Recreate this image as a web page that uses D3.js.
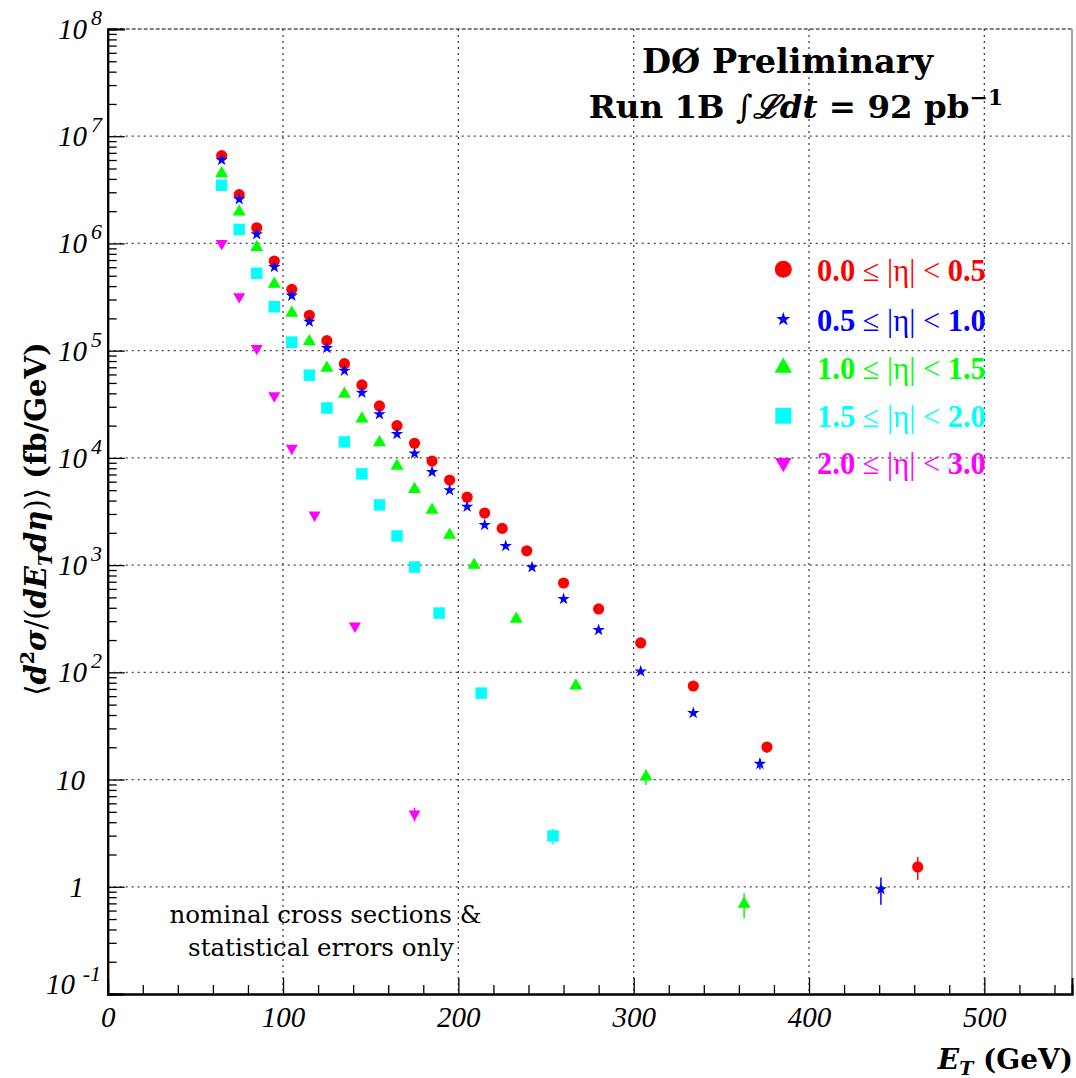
<!DOCTYPE html>
<html><head><meta charset="utf-8">
<script src="https://cdn.jsdelivr.net/npm/d3@7"></script>
<style>body{margin:0;background:#fff} svg{display:block}</style>
</head><body>
<svg id="c" width="1076" height="1078"></svg>
<script>
// ---------- data ----------
const etRed   = [65,75,85,95,105,115,125,135,145,155,165,175,185,195,205,215,225,239,260,280,304,334,376,462];
const valRed  = [6.59e6,2.85e6,1.40e6,6.86e5,3.73e5,2.14e5,1.24e5,7.56e4,4.79e4,3.05e4,2.0e4,1.37e4,9.35e3,6.2e3,4.3e3,3.06e3,2.2e3,1.36e3,681,390,188,74.6,20.1,1.53];
const errRed  = [0,0,0,0,0,0,0,0,0,0,0,0,0,0,0,0,0,0,0,0,0,0,2.2,0.37];

const etBlue  = [65,75,85,95,105,115,125,135,145,155,165,175,185,195,205,215,227,242,260,280,304,334,372,441];
const valBlue = [6.0e6,2.58e6,1.22e6,6.03e5,3.26e5,1.86e5,1.06e5,6.5e4,4.05e4,2.55e4,1.67e4,1.10e4,7.4e3,5.0e3,3.5e3,2.37e3,1.51e3,955,483,248,102,41.8,14.0,0.95];
const errBlue = [0,0,0,0,0,0,0,0,0,0,0,0,0,0,0,0,0,0,0,0,0,0,1.6,0.27];

const etGreen  = [65,75,85,95,105,115,125,135,145,155,165,175,185,195,209,233,267,307,363];
const valGreen = [4.5e6,1.98e6,9.2e5,4.19e5,2.24e5,1.22e5,6.9e4,3.94e4,2.32e4,1.39e4,8.4e3,5.1e3,3.27e3,1.91e3,1.0e3,314,75,10.6,0.69];
const errGreen = [0,0,0,0,0,0,0,0,0,0,0,0,0,0,0,0,0,1.7,0.18];

const etCyan  = [65,75,85,95,105,115,125,135,145,155,165,175,189,213,254];
const valCyan = [3.49e6,1.35e6,5.27e5,2.57e5,1.2e5,5.9e4,2.92e4,1.41e4,7.1e3,3.64e3,1.87e3,960,357,64,2.98];
const errCyan = [0,0,0,0,0,0,0,0,0,0,0,0,0,0,0.5];

const etMag  = [65,75,85,95,105,118,141,175];
const valMag = [1.0e6,3.19e5,1.05e5,3.8e4,1.23e4,2.93e3,270,4.77];
const errMag = [0,0,0,0,0,0,0,0.7];

const seriesNames  = ["0.0|0.5","0.5|1.0","1.0|1.5","1.5|2.0","2.0|3.0"];
const xTickLabels  = [0,100,200,300,400,500];
const yDecadeExps  = [-1,0,1,2,3,4,5,6,7,8];

// ---------- setup ----------
const W = 1076, H = 1078;
const L = 107.7, R = 1072, T = 29, B = 994;
const x = d3.scaleLinear().domain([0,550]).range([L,R]);
const y = d3.scaleLog().domain([0.1,1e8]).range([B,T]);
const svg = d3.select('#c');
svg.append('rect').attr('width',W).attr('height',H).attr('fill','#fff');

const serif = "'Liberation Serif','Times New Roman',serif";
const cm = "'DejaVu Serif',serif";

// grid
const g = svg.append('g');
xTickLabels.filter(v=>v>0).forEach(v=>{
  g.append('line').attr('x1',x(v)).attr('x2',x(v)).attr('y1',T).attr('y2',B)
   .attr('stroke','#444').attr('stroke-width',1.3).attr('stroke-dasharray','2,4');
});
yDecadeExps.filter(e=>e>-1 && e<8).forEach(e=>{
  const yy = y(Math.pow(10,e));
  g.append('line').attr('x1',L).attr('x2',R).attr('y1',yy).attr('y2',yy)
   .attr('stroke','#444').attr('stroke-width',1.3).attr('stroke-dasharray','2,4');
});
// frame top/right
svg.append('line').attr('x1',L).attr('x2',R).attr('y1',T).attr('y2',T)
  .attr('stroke','#555').attr('stroke-width',1.5).attr('stroke-dasharray','4,2');
svg.append('line').attr('x1',R).attr('x2',R).attr('y1',T).attr('y2',B)
  .attr('stroke','#888').attr('stroke-width',1.5);

// x axis
const xMinor = d3.range(0,551,20).filter(v=>v%100!==0);
const ax1 = svg.append('g').attr('transform',`translate(0,${B})`)
  .call(d3.axisBottom(x).tickValues(xMinor).tickSize(-9).tickFormat(''));
const ax2 = svg.append('g').attr('transform',`translate(0,${B})`)
  .call(d3.axisBottom(x).tickValues(xTickLabels).tickSize(-16).tickPadding(12).tickFormat(d3.format('d')));
[ax1,ax2].forEach(a=>{
  a.select('.domain').attr('stroke','#000').attr('stroke-width',2);
  a.selectAll('.tick line').attr('stroke','#000').attr('stroke-width',1.3);
});
ax2.selectAll('text').attr('font-family',serif).attr('font-style','italic')
  .attr('font-size',29).attr('fill','#000');

// y axis
const yMinor = [];
yDecadeExps.slice(0,-1).forEach(e=>{ for(let k=2;k<=9;k++) yMinor.push(k*Math.pow(10,e)); });
const ay1 = svg.append('g').attr('transform',`translate(${L},0)`)
  .call(d3.axisLeft(y).tickValues(yMinor).tickSize(-9).tickFormat(''));
const ay2 = svg.append('g').attr('transform',`translate(${L},0)`)
  .call(d3.axisLeft(y).tickValues(yDecadeExps.map(e=>Math.pow(10,e))).tickSize(-17).tickFormat(''));
[ay1,ay2].forEach(a=>{
  a.select('.domain').attr('stroke','#000').attr('stroke-width',2);
  a.selectAll('.tick line').attr('stroke','#000').attr('stroke-width',1.3);
});
// y labels
yDecadeExps.forEach(e=>{
  const yy = y(Math.pow(10,e));
  const t = (s,xx,yb,fs)=>svg.append('text').attr('x',xx).attr('y',yb).attr('text-anchor','end')
     .attr('font-family',serif).attr('font-style','italic').attr('font-size',fs).attr('fill','#000').text(s);
  if (e===0) t('1',84,yy+10,29);
  else if (e===1) t('10',85,yy+10,29);
  else if (e<0) { t('10',75,yy,29); t(String(e),101,yy-13,22); }
  else { t('10',87,yy+10,29); t(String(e),102,yy-4,22); }
});

// ---------- markers ----------
const colors = ['#ff0000','#0000ff','#00ff00','#00ffff','#ff00ff'];
const triArea = w => Math.sqrt(3)/4*w*w;
const shapes = [
  {type:d3.symbolCircle, size:Math.PI*5.6*5.6, lsize:Math.PI*8.5*8.5, rot:0},
  {type:d3.symbolStar, size:48, lsize:62, rot:0},
  {type:d3.symbolTriangle, size:triArea(13), lsize:triArea(17.5), rot:0},
  {type:d3.symbolSquare, size:11.5*11.5, lsize:16*16, rot:0},
  {type:d3.symbolTriangle, size:triArea(12), lsize:triArea(16.5), rot:180}
];
const allSeries = [
  [etRed,valRed,errRed],[etBlue,valBlue,errBlue],[etGreen,valGreen,errGreen],
  [etCyan,valCyan,errCyan],[etMag,valMag,errMag]
];
const mk = svg.append('g');
allSeries.forEach((s,i)=>{
  const [ets,vals,errs] = s;
  const pts = ets.map((e,j)=>({e, v:vals[j], er:errs[j]}));
  mk.selectAll(null).data(pts.filter(p=>p.er>0)).enter().append('line')
    .attr('x1',p=>x(p.e)).attr('x2',p=>x(p.e))
    .attr('y1',p=>y(p.v+p.er)).attr('y2',p=>y(Math.max(p.v-p.er,0.11)))
    .attr('stroke',colors[i]).attr('stroke-width',1.5);
  mk.selectAll(null).data(pts).enter().append('path')
    .attr('d',d3.symbol().type(shapes[i].type).size(shapes[i].size))
    .attr('transform',p=>`translate(${x(p.e)},${y(p.v)}) rotate(${shapes[i].rot})`)
    .attr('fill',colors[i]);
});

// ---------- legend ----------
const legY = [269.3,319.3,367.7,415.7,462.7];
seriesNames.forEach((nm,i)=>{
  const [a,b] = nm.split('|');
  svg.append('path').attr('d',d3.symbol().type(shapes[i].type).size(shapes[i].lsize))
    .attr('transform',`translate(783.3,${legY[i]}) rotate(${shapes[i].rot})`).attr('fill',colors[i]);
  const t = svg.append('text').attr('x',817).attr('y',legY[i]+11.5)
    .attr('font-family',serif).attr('font-size',30.5).attr('fill',colors[i]);
  t.append('tspan').attr('font-weight','bold').text(a);
  t.append('tspan').text(' \u2264 |\u03b7| < ');
  t.append('tspan').attr('font-weight','bold').text(b);
});

// ---------- titles ----------
svg.append('text').attr('x',787.5).attr('y',73).attr('text-anchor','middle')
  .attr('font-family',cm).attr('font-weight','bold').attr('font-size',33.5).attr('fill','#000')
  .text('D\u00d8 Preliminary');
const t2 = svg.append('text').attr('x',796).attr('y',118).attr('text-anchor','middle')
  .attr('font-family',cm).attr('font-weight','bold').attr('font-size',32.5).attr('fill','#000');
t2.append('tspan').text('Run 1B ');
t2.append('tspan').attr('font-weight','normal').text('\u222b');
t2.append('tspan').attr('font-style','italic').text('\u2112dt');
t2.append('tspan').text(' = 92 pb');
t2.append('tspan').attr('font-size',22).attr('dy',-13).text('\u22121');

// annotation
svg.append('text').attr('x',325.5).attr('y',923).attr('text-anchor','middle')
  .attr('font-family',cm).attr('font-size',24.5).attr('fill','#000').text('nominal cross sections &');
svg.append('text').attr('x',321).attr('y',956).attr('text-anchor','middle')
  .attr('font-family',cm).attr('font-size',24.5).attr('fill','#000').text('statistical errors only');

// x title
const xt = svg.append('text').attr('x',1073).attr('y',1069).attr('text-anchor','end')
  .attr('font-family',cm).attr('font-weight','bold').attr('font-size',28).attr('fill','#000');
xt.append('tspan').attr('font-style','italic').text('E');
xt.append('tspan').attr('font-style','italic').attr('font-size',19).attr('dy',6).text('T');
xt.append('tspan').attr('dy',-6).text(' (GeV)');

// y title
const yt = svg.append('text').attr('transform','translate(46,519) rotate(-90)').attr('text-anchor','middle')
  .attr('font-family',cm).attr('font-weight','bold').attr('font-size',29).attr('fill','#000');
yt.append('tspan').attr('font-weight','normal').text('\u27e8');
yt.append('tspan').attr('font-style','italic').text('d');
yt.append('tspan').attr('font-size',19).attr('dy',-12).text('2');
yt.append('tspan').attr('dy',12).attr('font-style','italic').text('\u03c3');
yt.append('tspan').attr('font-weight','normal').text('/(');
yt.append('tspan').attr('font-style','italic').text('dE');
yt.append('tspan').attr('font-style','italic').attr('font-size',19).attr('dy',6).text('T');
yt.append('tspan').attr('dy',-6).attr('font-style','italic').text('d\u03b7');
yt.append('tspan').attr('font-weight','normal').text(')\u27e9 ');
yt.append('tspan').text('(fb/GeV)');
</script>
</body></html>
